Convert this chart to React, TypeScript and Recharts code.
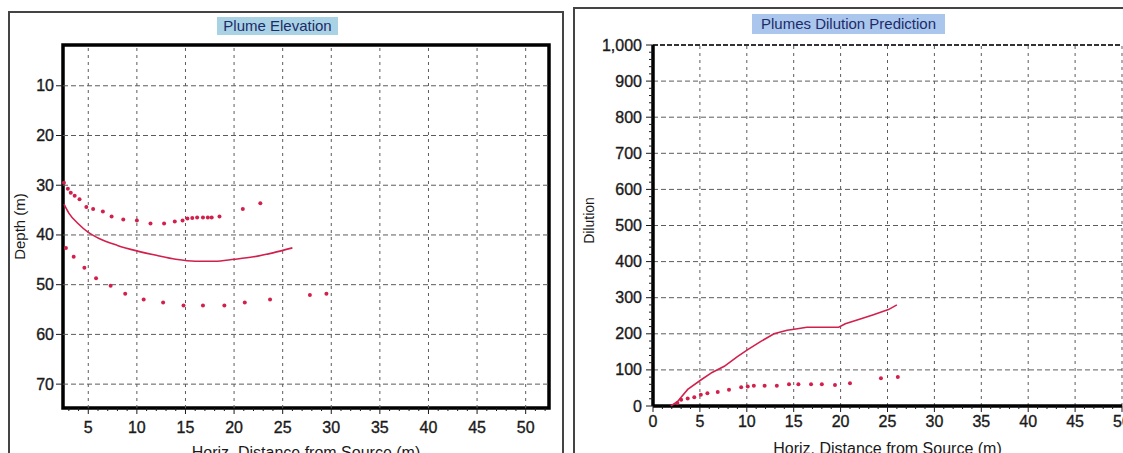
import { ScatterChart, Scatter, XAxis, YAxis, ReferenceLine, ReferenceArea } from "recharts";

const RED = "#d2204c";
const INK = "#1a1a1a";
const GRID = "#5c5c5c";
const FONT = '"Liberation Sans", Arial, sans-serif';

// Plume Elevation: centreline and the two plume boundaries (depth in m)
const elevLineX = [2.5, 3, 4, 5, 6, 8, 10, 12, 14, 16, 18, 20, 22, 24, 26];
const elevLineDepth = [33.8, 35.6, 37.8, 39.5, 40.6, 42.1, 43.2, 44.1, 44.9, 45.3, 45.3, 44.9, 44.4, 43.6, 42.6];

const elevTopX = [2.5, 2.9, 3.2, 3.6, 4.1, 4.8, 5.5, 6.5, 7.4, 8.6, 10, 11.4, 12.8, 13.9, 14.7, 15.2, 15.7, 16.2, 16.8, 17.3, 17.7, 18.5, 20.9, 22.7];
const elevTopDepth = [29.5, 30.7, 31.5, 32.1, 32.8, 34.4, 34.8, 35.3, 36.3, 36.9, 37.1, 37.7, 37.7, 37.3, 37.1, 36.7, 36.6, 36.5, 36.5, 36.5, 36.5, 36.3, 34.8, 33.6];

const elevBottomX = [2.7, 3.5, 4.6, 5.8, 7.3, 8.8, 10.7, 12.7, 14.8, 16.8, 19, 21.1, 23.7, 27.8, 29.5];
const elevBottomDepth = [42.6, 44.4, 46.6, 48.7, 50.2, 51.8, 53, 53.6, 54.2, 54.2, 54.2, 53.6, 53, 52.1, 51.8];

// Plumes Dilution Prediction
const dilLineX = [1.9, 2.6, 3.7, 5.1, 6.3, 7.6, 9.0, 10.1, 11.5, 12.9, 14.3, 15.4, 16.4, 18.2, 19.8, 20.5, 22.1, 23.5, 25.1, 26.0];
const dilLineValue = [0, 12, 46, 72, 93, 110, 137, 156, 179, 200, 210, 214, 218, 218, 218, 228, 241, 253, 267, 280];

const dilDotsX = [2.6, 3.0, 3.7, 4.4, 5.1, 5.8, 6.9, 8.1, 9.4, 10.1, 10.75, 11.9, 13.2, 14.5, 15.5, 16.85, 18.0, 19.4, 21.0, 24.3, 26.1];
const dilDotsValue = [8, 17, 21, 24, 31, 35, 39, 45, 52, 54, 56, 56, 56, 60, 60, 60, 60, 58, 63, 77, 80];

// axes
const elevXDomain = [2.4, 52.4];
const elevYDomain = [1.8, 74.8];
const elevXGrid = [5, 10, 15, 20, 25, 30, 35, 40, 45, 50];
const elevYGrid = [10, 20, 30, 40, 50, 60, 70];
const elevXTicks = Array.from({ length: 50 }, (_, i) => i + 3);

const dilXGrid = [5, 10, 15, 20, 25, 30, 35, 40, 45];
const dilYGrid = [100, 200, 300, 400, 500, 600, 700, 800, 900];
const dilXTicks = Array.from({ length: 51 }, (_, i) => i);
const dilYTicks = Array.from({ length: 51 }, (_, i) => i * 20);

const zip = (xs: number[], ys: number[]) => xs.map((x, i) => ({ x, y: ys[i] }));

const Dot = (p: any) => <circle cx={p.cx} cy={p.cy} r={2} fill={RED} />;
const NoDot = () => <g />;

const tickText = { fontSize: 16, fill: INK, fontFamily: FONT, stroke: INK, strokeWidth: 0.35 };

function makeXTick(labelDy: number) {
  return (p: any) => {
    const v = p.payload.value;
    const major = v % 5 === 0;
    return (
      <g>
        <line x1={p.x} x2={p.x} y1={p.y} y2={p.y + (major ? 6 : 3)} stroke={INK} />
        {major && (
          <text x={p.x} y={p.y + labelDy} textAnchor="middle" {...tickText}>
            {v}
          </text>
        )}
      </g>
    );
  };
}

function makeYTick(majorStep: number, gap: number) {
  return (p: any) => {
    const v = p.payload.value;
    const major = v % majorStep === 0;
    return (
      <g>
        <line x1={p.x - (major ? 7 : 4)} x2={p.x} y1={p.y} y2={p.y} stroke={INK} />
        {major && (
          <text x={p.x - gap} y={p.y} dy={5.5} textAnchor="end" {...tickText}>
            {v.toLocaleString("en-US")}
          </text>
        )}
      </g>
    );
  };
}

const titleBox = {
  position: "absolute" as const,
  color: "#1d2b6a",
  fontFamily: FONT,
  fontSize: 15,
  textAlign: "center" as const,
};

function ElevationChart() {
  return (
    <ScatterChart width={562} height={470} margin={{ top: 45, right: 13, bottom: 32, left: 0 }}>
      <XAxis
        type="number"
        dataKey="x"
        domain={elevXDomain}
        ticks={elevXTicks}
        interval={0}
        height={30}
        tickSize={0}
        tickMargin={0}
        tickLine={false}
        axisLine={false}
        tick={makeXTick(25)}
        label={{ value: "Horiz. Distance from Source (m)", position: "bottom", offset: 9, fill: INK, fontSize: 16, fontFamily: FONT }}
      />
      <YAxis
        type="number"
        dataKey="y"
        domain={elevYDomain}
        reversed
        ticks={elevYGrid}
        interval={0}
        width={63}
        tickSize={0}
        tickMargin={0}
        tickLine={false}
        axisLine={false}
        tick={makeYTick(10, 9)}
        label={{ value: "Depth (m)", angle: -90, position: "insideLeft", offset: 20, fill: INK, fontSize: 15, fontFamily: FONT, style: { textAnchor: "middle" } }}
      />
      {elevYGrid.map((v) => (
        <ReferenceLine key={"h" + v} y={v} stroke={GRID} strokeDasharray="5 3" />
      ))}
      {elevXGrid.map((v) => (
        <ReferenceLine key={"v" + v} x={v} stroke={GRID} strokeDasharray="3 4" />
      ))}
      <ReferenceArea
        x1={elevXDomain[0]}
        x2={elevXDomain[1]}
        y1={elevYDomain[0]}
        y2={elevYDomain[1]}
        fill="none"
        fillOpacity={0}
        stroke="#000"
        strokeWidth={3.5}
      />
      <Scatter
        data={zip(elevLineX, elevLineDepth)}
        line={{ stroke: RED, strokeWidth: 1.6 }}
        lineJointType="monotoneX"
        shape={NoDot}
        isAnimationActive={false}
      />
      <Scatter data={zip(elevTopX, elevTopDepth)} shape={Dot} isAnimationActive={false} />
      <Scatter data={zip(elevBottomX, elevBottomDepth)} shape={Dot} isAnimationActive={false} />
    </ScatterChart>
  );
}

function DilutionChart() {
  return (
    <ScatterChart width={580} height={470} margin={{ top: 45, right: 20, bottom: 34, left: 0 }}>
      <XAxis
        type="number"
        dataKey="x"
        domain={[0, 50]}
        ticks={dilXTicks}
        interval={0}
        height={30}
        tickSize={0}
        tickMargin={0}
        tickLine={false}
        axisLine={false}
        tick={makeXTick(21)}
        label={{ value: "Horiz. Distance from Source (m)", position: "bottom", offset: 7, fill: INK, fontSize: 16, fontFamily: FONT }}
      />
      <YAxis
        type="number"
        dataKey="y"
        domain={[0, 1000]}
        ticks={dilYTicks}
        interval={0}
        width={91}
        tickSize={0}
        tickMargin={0}
        tickLine={false}
        axisLine={false}
        tick={makeYTick(100, 11)}
        label={{ value: "Dilution", angle: -90, position: "insideLeft", offset: 27, dy: -5, fill: INK, fontSize: 14, fontFamily: FONT, style: { textAnchor: "middle" } }}
      />
      {dilYGrid.map((v) => (
        <ReferenceLine key={"h" + v} y={v} stroke={GRID} strokeDasharray="5 3" />
      ))}
      {dilXGrid.map((v) => (
        <ReferenceLine key={"v" + v} x={v} stroke={GRID} strokeDasharray="3 4" />
      ))}
      <ReferenceLine y={1000} stroke="#333" strokeWidth={2} strokeDasharray="5 2" />
      <ReferenceLine x={50} stroke={GRID} strokeDasharray="3 4" />
      <ReferenceLine x={0} stroke="#000" strokeWidth={3.5} />
      <ReferenceLine y={0} stroke="#000" strokeWidth={3.5} />
      <Scatter
        data={zip(dilLineX, dilLineValue)}
        line={{ stroke: RED, strokeWidth: 1.6 }}
        shape={NoDot}
        isAnimationActive={false}
      />
      <Scatter data={zip(dilDotsX, dilDotsValue)} shape={Dot} isAnimationActive={false} />
    </ScatterChart>
  );
}

export default function App() {
  return (
    <div
      style={{
        position: "fixed",
        left: 0,
        top: 0,
        width: 1123,
        height: 453,
        overflow: "hidden",
        background: "#fff",
      }}
    >
      <div style={{ position: "absolute", left: 8, top: 11, width: 552, height: 470, border: "2px solid #444" }} />
      <div style={{ position: "absolute", left: 573, top: 7, width: 600, height: 470, border: "2px solid #444" }} />
      <div style={{ position: "absolute", left: 0, top: 0 }}>
        <ElevationChart />
      </div>
      <div style={{ position: "absolute", left: 562, top: 0 }}>
        <DilutionChart />
      </div>
      <div style={{ ...titleBox, left: 217, top: 17, width: 121, height: 18, lineHeight: "18px", background: "#a9d3e4" }}>
        Plume Elevation
      </div>
      <div style={{ ...titleBox, left: 752, top: 14, width: 193, height: 20, lineHeight: "20px", background: "#aac6ec" }}>
        Plumes Dilution Prediction
      </div>
    </div>
  );
}
